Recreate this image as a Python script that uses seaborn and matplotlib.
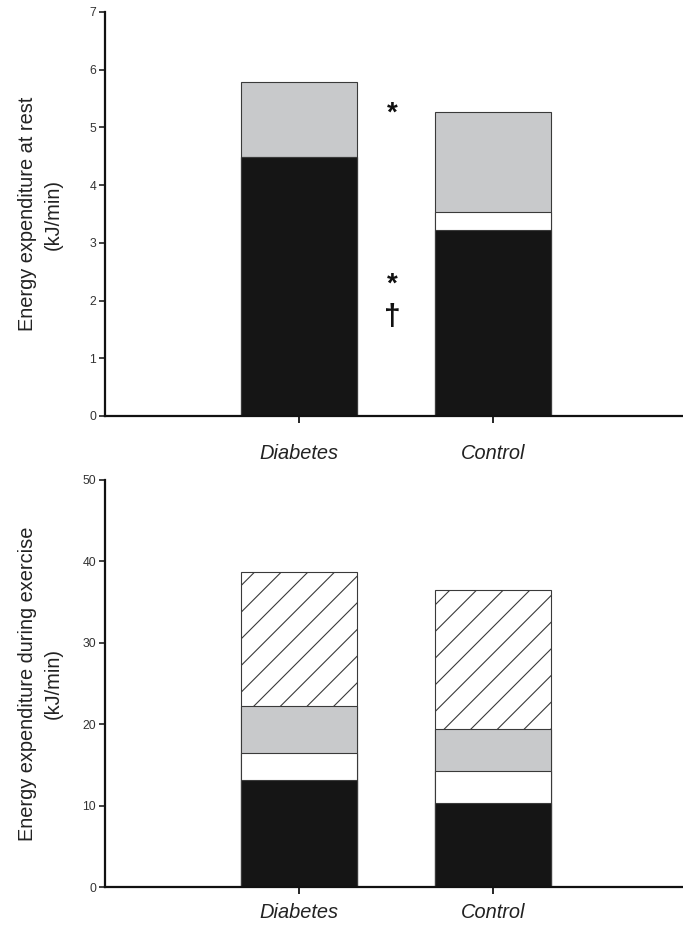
import numpy as np
import pandas as pd
import matplotlib
matplotlib.use("Agg")
import matplotlib.pyplot as plt
import seaborn as sns

# Groups and energy-expenditure components (kJ/min), stacked bottom to top
groups = ["Diabetes", "Control"]

rest_black = [4.48, 3.23]
rest_white = [0.00, 0.31]
rest_gray = [1.30, 1.73]

ex_black = [13.1, 10.3]
ex_white = [3.4, 4.0]
ex_gray = [5.7, 5.1]
ex_hatched = [16.45, 17.1]

rest_yticks = [0, 1, 2, 3, 4, 5, 6, 7]
ex_yticks = [0, 10, 20, 30, 40, 50]

sns.set_style("ticks")
plt.rcParams["font.family"] = ["Liberation Sans", "DejaVu Sans"]
plt.rcParams["hatch.linewidth"] = 0.5

DPI = 160
fig = plt.figure(figsize=(683 / DPI, 925 / DPI), dpi=DPI)
ax_rest = fig.add_axes([105 / 683, 509 / 925, 582 / 683, 404 / 925])
ax_ex = fig.add_axes([105 / 683, 38 / 925, 582 / 683, 407 / 925])

BLACK = "#151515"
GRAY = "#c8c9cb"
EDGE = "#3a3a3a"


def stacked(ax, layers):
    """Draw stacked bars by overdrawing cumulative totals, tallest first."""
    cum = np.cumsum(np.array([l[0] for l in layers], dtype=float), axis=0)
    for i in range(len(layers) - 1, -1, -1):
        face, hatch = layers[i][1], layers[i][2]
        df = pd.DataFrame({"group": groups, "value": cum[i]})
        sns.barplot(data=df, x="group", y="value", ax=ax, color=face,
                    width=0.6, saturation=1, errorbar=None,
                    edgecolor=EDGE, linewidth=0.5, hatch=hatch)


stacked(ax_rest, [(rest_black, BLACK, None),
                  (rest_white, "white", None),
                  (rest_gray, GRAY, None)])

stacked(ax_ex, [(ex_black, BLACK, None),
                (ex_white, "white", None),
                (ex_gray, GRAY, None),
                (ex_hatched, "white", "//")])

for ax, ylim, yt, label, pad in [
        (ax_rest, 7, rest_yticks, "Energy expenditure at rest\n(kJ/min)", 9.3),
        (ax_ex, 50, ex_yticks, "Energy expenditure during exercise\n(kJ/min)", 3.8)]:
    ax.set_xlim(-1, 2)
    ax.set_ylim(0, ylim)
    ax.set_yticks(yt)
    ax.set_yticklabels([str(v) for v in yt])
    ax.set_xlabel("")
    ax.set_ylabel(label, fontsize=9, linespacing=1.45, color="#222222")
    ax.yaxis.set_label_coords(-0.072, 0.5)
    ax.set_xticks([0, 1])
    ax.set_xticklabels(groups, fontsize=9, style="italic", color="#222222")
    sns.despine(ax=ax)
    for s in ("left", "bottom"):
        ax.spines[s].set_linewidth(1.0)
        ax.spines[s].set_color("#111111")
    ax.tick_params(axis="y", direction="out", length=2.5, width=0.7,
                   labelsize=5.5, pad=1.5, colors="#111111",
                   labelcolor="#333333")
    ax.tick_params(axis="x", direction="out", length=3.2, width=0.8,
                   pad=pad, colors="#111111", labelcolor="#222222")
    ax.grid(False)

# Significance markers between the two resting bars
for y, mark, size in [(5.24, "*", 12.5), (2.27, "*", 12.5),
                      (1.72, "\u2020", 13.5)]:
    ax_rest.text(0.48, y, mark, ha="center", va="center", fontsize=size,
                 fontweight="bold", color="#111111")

fig.savefig("out.png", dpi=DPI)
